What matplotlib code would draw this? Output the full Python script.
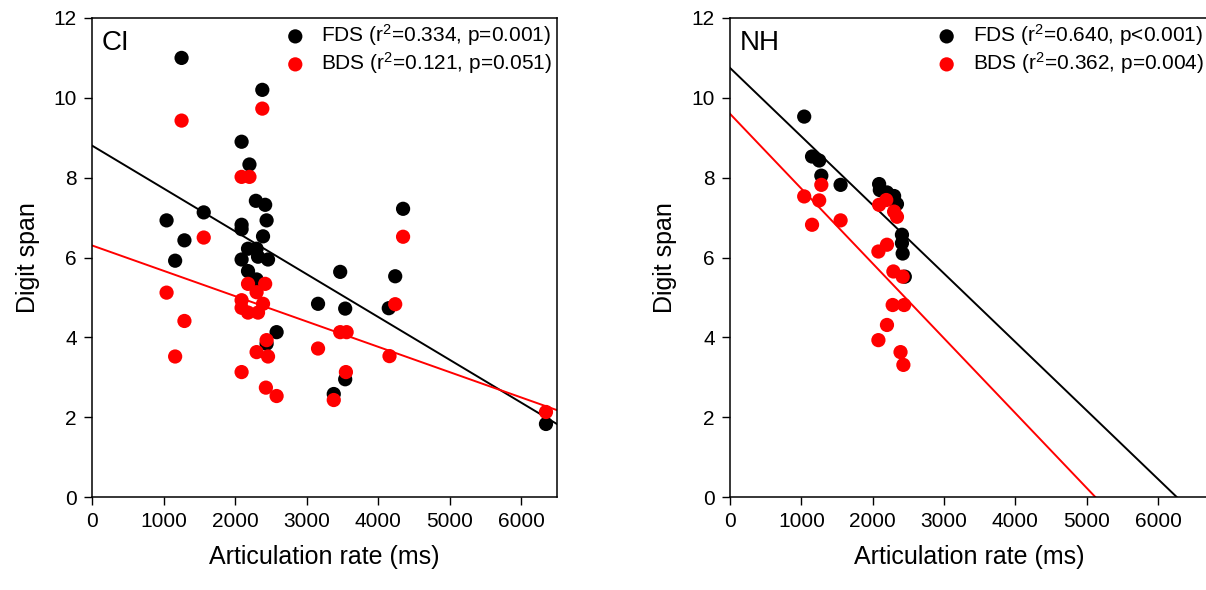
import numpy as np
import matplotlib.pyplot as plt

plt.rcParams['font.family'] = ['Liberation Sans', 'DejaVu Sans']
plt.rcParams['mathtext.fontset'] = 'custom'
plt.rcParams['mathtext.rm'] = 'Liberation Sans'
plt.rcParams['mathtext.it'] = 'Liberation Sans'

# CI group (articulation rate in ms, digit span)
ci_fds_x = [1040, 1160, 1250, 1290, 1560, 2090, 2200, 2290, 2420, 2440, 2090, 2090,
            2390, 2380, 2180, 2300, 2320, 2090, 2460, 2180, 2300, 2580, 2440, 3160,
            3470, 3540, 3540, 3380, 4150, 4240, 4350, 6350]
ci_fds_y = [6.93, 5.92, 11.0, 6.43, 7.13, 8.9, 8.33, 7.42, 7.32, 6.93, 6.82, 6.71,
            6.53, 10.2, 6.22, 6.22, 6.02, 5.95, 5.95, 5.66, 5.45, 4.13, 3.84, 4.84,
            5.64, 4.72, 2.95, 2.58, 4.73, 5.53, 7.22, 1.83]
ci_bds_x = [1250, 2380, 2090, 2200, 1560, 1040, 1290, 1160, 2180, 2420, 2300, 2090,
            2090, 2390, 2180, 2320, 3470, 3560, 2440, 2300, 2460, 3160, 2090, 3550,
            2430, 2580, 3380, 4160, 4240, 4350, 6350]
ci_bds_y = [9.43, 9.73, 8.02, 8.02, 6.5, 5.12, 4.41, 3.52, 5.34, 5.34, 5.13, 4.93,
            4.74, 4.84, 4.62, 4.62, 4.13, 4.13, 3.93, 3.63, 3.52, 3.72, 3.13, 3.13,
            2.74, 2.53, 2.43, 3.53, 4.83, 6.52, 2.13]

# NH group
nh_fds_x = [1040, 1150, 1250, 1280, 1550, 2090, 2100, 2200, 2300, 2340, 2410, 2410,
            2420, 2450]
nh_fds_y = [9.53, 8.53, 8.43, 8.05, 7.82, 7.84, 7.69, 7.63, 7.54, 7.34, 6.57, 6.36,
            6.1, 5.52]
nh_bds_x = [1040, 1150, 1250, 1280, 1550, 2090, 2190, 2300, 2340, 2080, 2200, 2290,
            2420, 2280, 2440, 2200, 2080, 2390, 2430]
nh_bds_y = [7.53, 6.82, 7.43, 7.82, 6.93, 7.32, 7.44, 7.15, 7.02, 6.15, 6.32, 5.65,
            5.52, 4.81, 4.81, 4.31, 3.93, 3.63, 3.31]

# regression lines (intercept, slope per ms)
ci_fds_fit = (8.8, -0.001072)
ci_bds_fit = (6.3, -0.000634)
nh_fds_fit = (10.75, -0.001717)
nh_bds_fit = (9.6, -0.001875)

ci_labels = ["FDS (r$^2$=0.334, p=0.001)", "BDS (r$^2$=0.121, p=0.051)"]
nh_labels = ["FDS (r$^2$=0.640, p<0.001)", "BDS (r$^2$=0.362, p=0.004)"]

fig = plt.figure(figsize=(12.06, 5.9), dpi=100)
ax1 = fig.add_axes([0.0765, 0.1576, 0.3851, 0.8119])
ax2 = fig.add_axes([0.6053, 0.1576, 0.3964, 0.8119])

panels = [
    (ax1, "CI", ci_fds_x, ci_fds_y, ci_bds_x, ci_bds_y, ci_fds_fit, ci_bds_fit, ci_labels, 6500),
    (ax2, "NH", nh_fds_x, nh_fds_y, nh_bds_x, nh_bds_y, nh_fds_fit, nh_bds_fit, nh_labels, 6700),
]

for ax, name, fx, fy, bx, by, ffit, bfit, labels, xmax in panels:
    xx = np.array([0, xmax])
    ax.plot(xx, ffit[0] + ffit[1] * xx, color="black", lw=1.4, zorder=2)
    ax.plot(xx, bfit[0] + bfit[1] * xx, color="red", lw=1.4, zorder=2)
    ax.scatter(fx, fy, s=105, color="black", edgecolors="none", zorder=3, label=labels[0])
    ax.scatter(bx, by, s=105, color="red", edgecolors="none", zorder=3, label=labels[1])
    ax.set_xlim(0, xmax)
    ax.set_ylim(0, 12)
    ax.set_xticks(range(0, 7000, 1000))
    ax.set_yticks(range(0, 13, 2))
    ax.tick_params(direction="out", length=6, width=1, labelsize=15, pad=5,
                   top=False, right=False)
    for s in ax.spines.values():
        s.set_linewidth(1.1)
    ax.set_xlabel("Articulation rate (ms)", fontsize=18, labelpad=10)
    ax.set_ylabel("Digit span", fontsize=18, labelpad=10)
    ax.text(0.02, 0.975, name, transform=ax.transAxes, fontsize=20, va="top", ha="left")
    ax.legend(loc="upper right", frameon=False, fontsize=15, handletextpad=0.25,
              borderaxespad=0.0, borderpad=0.2, labelspacing=0.1, markerscale=1.0)

fig.savefig("out.png", dpi=100)
